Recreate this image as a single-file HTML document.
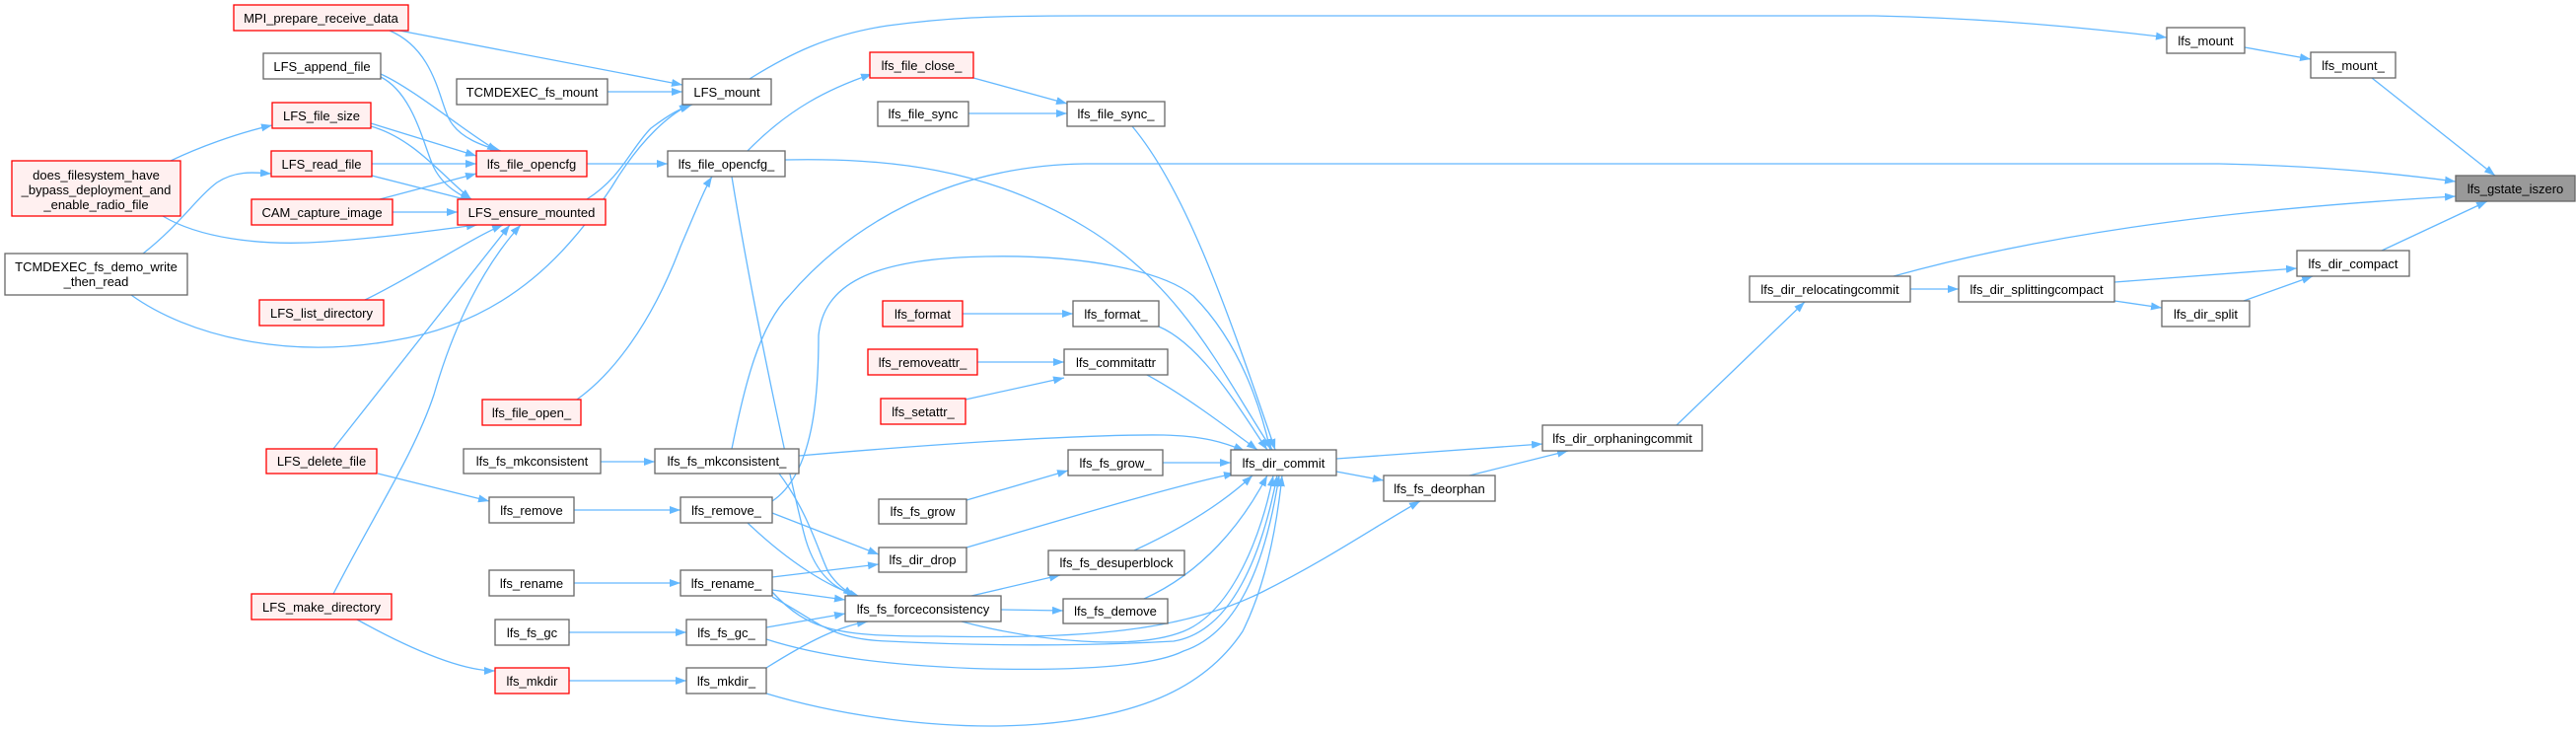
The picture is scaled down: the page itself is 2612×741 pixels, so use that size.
<!DOCTYPE html>
<html><head><meta charset="utf-8"><style>
html,body{margin:0;padding:0;background:#fff;}
svg{display:block;}
text{font-family:"Liberation Sans",Arial,sans-serif;font-size:13px;fill:#000;text-anchor:middle;}
.e{fill:none;stroke:#63b8ff;stroke-width:1.3;marker-end:url(#a);}
.n{fill:#fff;stroke:#666;stroke-width:1.3;}
.r{fill:#fff0f0;stroke:#ff0000;stroke-width:1.3;}
.g{fill:#999;stroke:#666;stroke-width:1.3;}
</style></head><body>
<svg width="2612" height="741" viewBox="0 0 2612 741" xmlns="http://www.w3.org/2000/svg">
<defs><marker id="a" markerUnits="userSpaceOnUse" markerWidth="11" markerHeight="8" refX="11" refY="4" orient="auto"><path d="M0,0 L11,4 L0,8 z" fill="#63b8ff"/></marker></defs>
<g>
<path class="e" d="M405,31 L692,86"/>
<path class="e" d="M395,31 C440,50 445,100 455,120 C465,140 490,148 508,153"/>
<path class="e" d="M386,75 C420,90 480,140 505,153"/>
<path class="e" d="M386,78 C420,95 430,150 440,170 C450,190 470,200 478,202"/>
<path class="e" d="M616,93 L692,93"/>
<path class="e" d="M376,125 L483,158"/>
<path class="e" d="M376,128 C420,140 450,180 478,202"/>
<path class="e" d="M377,166 L483,166"/>
<path class="e" d="M377,178 L483,205"/>
<path class="e" d="M173,163 C200,150 240,135 276,127"/>
<path class="e" d="M165,219 C200,240 260,250 330,245 C400,240 450,232 484,228"/>
<path class="e" d="M385,202 L483,176"/>
<path class="e" d="M398,215 L464,215"/>
<path class="e" d="M145,257 C180,230 200,200 220,185 C240,172 260,175 275,176"/>
<path class="e" d="M133,299 C190,340 290,365 400,345 C520,325 580,250 620,190 C650,140 680,115 700,106"/>
<path class="e" d="M370,304 C420,280 480,240 510,228"/>
<path class="e" d="M338,455 L517,228"/>
<path class="e" d="M383,480 L496,508"/>
<path class="e" d="M338,602 C380,520 420,460 440,400 C460,330 490,270 528,228"/>
<path class="e" d="M362,628 C420,660 470,680 502,680"/>
<path class="e" d="M595,202 C630,180 640,150 660,130 C680,115 690,110 702,106"/>
<path class="e" d="M595,166 L677,166"/>
<path class="e" d="M760,80 C800,55 840,35 900,26 C960,18 1000,16 1100,16 L1900,16 C2000,18 2100,26 2197,38"/>
<path class="e" d="M758,153 C800,110 840,90 884,75"/>
<path class="e" d="M796,162 C900,160 1000,170 1100,230 C1200,290 1240,380 1290,456"/>
<path class="e" d="M742,179 C765,320 800,480 815,540 C825,580 845,598 870,604"/>
<path class="e" d="M585,405 C620,380 660,330 690,250 C705,215 715,190 722,179"/>
<path class="e" d="M987,79 L1082,105"/>
<path class="e" d="M982,115 L1082,115"/>
<path class="e" d="M1148,128 C1200,190 1240,300 1293,456"/>
<path class="e" d="M609,468 L664,468"/>
<path class="e" d="M742,455 C755,390 770,330 800,300 C860,230 960,168 1100,166 L2250,166 C2350,168 2420,175 2490,184"/>
<path class="e" d="M810,462 C950,450 1100,440 1180,441 C1220,442 1240,448 1262,457"/>
<path class="e" d="M790,480 C820,520 830,560 840,580 C850,595 860,600 866,604"/>
<path class="e" d="M582,517 L690,517"/>
<path class="e" d="M783,508 C825,480 830,400 830,340 C835,290 880,262 1000,260 C1100,258 1180,275 1210,300 C1260,350 1280,420 1288,456"/>
<path class="e" d="M783,520 L891,562"/>
<path class="e" d="M758,530 C800,570 840,595 872,605"/>
<path class="e" d="M582,591 L690,591"/>
<path class="e" d="M783,585 L891,572"/>
<path class="e" d="M783,598 L857,608"/>
<path class="e" d="M783,605 C830,630 840,648 900,650 C1000,655 1100,655 1190,650 C1250,640 1280,560 1295,482"/>
<path class="e" d="M783,600 C820,640 850,645 950,645 C1100,648 1200,640 1280,600 C1350,565 1400,530 1440,508"/>
<path class="e" d="M577,641 L696,641"/>
<path class="e" d="M777,636 L857,622"/>
<path class="e" d="M777,648 C830,665 900,675 1000,678 C1100,680 1170,675 1200,660 C1260,640 1285,560 1297,482"/>
<path class="e" d="M577,690 L696,690"/>
<path class="e" d="M777,677 C820,650 850,635 880,630"/>
<path class="e" d="M777,703 C850,725 950,740 1040,735 C1150,728 1220,700 1260,640 C1285,590 1295,530 1300,482"/>
<path class="e" d="M976,318 L1088,318"/>
<path class="e" d="M1175,331 C1220,350 1260,420 1285,456"/>
<path class="e" d="M991,367 L1079,367"/>
<path class="e" d="M979,405 L1079,383"/>
<path class="e" d="M1163,380 C1200,400 1240,430 1275,456"/>
<path class="e" d="M980,507 L1083,477"/>
<path class="e" d="M1179,469 L1248,469"/>
<path class="e" d="M980,555 C1100,520 1200,490 1252,480"/>
<path class="e" d="M985,604 L1075,583"/>
<path class="e" d="M1015,618 L1078,619"/>
<path class="e" d="M975,630 C1050,650 1150,660 1200,640 C1250,620 1280,540 1291,482"/>
<path class="e" d="M1150,558 C1200,535 1240,510 1270,482"/>
<path class="e" d="M1160,607 C1220,580 1260,530 1285,482"/>
<path class="e" d="M1355,465 L1564,450"/>
<path class="e" d="M1355,478 L1403,487"/>
<path class="e" d="M1490,482 L1590,457"/>
<path class="e" d="M1700,431 L1830,306"/>
<path class="e" d="M1937,293 L1986,293"/>
<path class="e" d="M1920,280 C2100,230 2300,210 2490,199"/>
<path class="e" d="M2144,286 L2329,272"/>
<path class="e" d="M2144,305 L2192,312"/>
<path class="e" d="M2275,305 L2345,280"/>
<path class="e" d="M2415,254 L2522,204"/>
<path class="e" d="M2276,48 L2343,60"/>
<path class="e" d="M2405,79 L2530,178"/>
</g>
<g>
<rect class="r" x="237" y="5" width="177" height="26"/><text x="325.5" y="23">MPI_prepare_receive_data</text>
<rect class="n" x="267" y="54" width="119" height="26"/><text x="326.5" y="72">LFS_append_file</text>
<rect class="n" x="463" y="80" width="153" height="26"/><text x="539.5" y="98">TCMDEXEC_fs_mount</text>
<rect class="n" x="692" y="80" width="90" height="26"/><text x="737" y="98">LFS_mount</text>
<rect class="r" x="276" y="104" width="100" height="26"/><text x="326" y="122">LFS_file_size</text>
<rect class="r" x="275" y="153" width="102" height="26"/><text x="326" y="171">LFS_read_file</text>
<rect class="r" x="483" y="153" width="112" height="26"/><text x="539" y="171">lfs_file_opencfg</text>
<rect class="n" x="677" y="153" width="119" height="26"/><text x="736.5" y="171">lfs_file_opencfg_</text>
<rect class="r" x="12" y="163" width="171" height="56"/><text x="97.5" y="182">does_filesystem_have</text><text x="97.5" y="197">_bypass_deployment_and</text><text x="97.5" y="212">_enable_radio_file</text>
<rect class="r" x="255" y="202" width="143" height="26"/><text x="326.5" y="220">CAM_capture_image</text>
<rect class="r" x="464" y="202" width="150" height="26"/><text x="539" y="220">LFS_ensure_mounted</text>
<rect class="n" x="5" y="257" width="185" height="42"/><text x="97.5" y="275">TCMDEXEC_fs_demo_write</text><text x="97.5" y="290">_then_read</text>
<rect class="r" x="263" y="304" width="126" height="26"/><text x="326" y="322">LFS_list_directory</text>
<rect class="r" x="489" y="405" width="100" height="26"/><text x="539" y="423">lfs_file_open_</text>
<rect class="r" x="270" y="455" width="112" height="25"/><text x="326" y="472">LFS_delete_file</text>
<rect class="n" x="470" y="455" width="139" height="25"/><text x="539.5" y="472">lfs_fs_mkconsistent</text>
<rect class="n" x="664" y="455" width="146" height="25"/><text x="737" y="472">lfs_fs_mkconsistent_</text>
<rect class="n" x="496" y="504" width="86" height="26"/><text x="539" y="522">lfs_remove</text>
<rect class="n" x="690" y="504" width="93" height="26"/><text x="736.5" y="522">lfs_remove_</text>
<rect class="n" x="496" y="578" width="86" height="26"/><text x="539" y="596">lfs_rename</text>
<rect class="n" x="690" y="578" width="93" height="26"/><text x="736.5" y="596">lfs_rename_</text>
<rect class="r" x="255" y="602" width="142" height="26"/><text x="326" y="620">LFS_make_directory</text>
<rect class="n" x="502" y="628" width="75" height="26"/><text x="539.5" y="646">lfs_fs_gc</text>
<rect class="n" x="696" y="628" width="81" height="26"/><text x="736.5" y="646">lfs_fs_gc_</text>
<rect class="r" x="502" y="677" width="75" height="26"/><text x="539.5" y="695">lfs_mkdir</text>
<rect class="n" x="696" y="677" width="81" height="26"/><text x="736.5" y="695">lfs_mkdir_</text>
<rect class="r" x="882" y="53" width="105" height="26"/><text x="934.5" y="71">lfs_file_close_</text>
<rect class="n" x="890" y="103" width="92" height="25"/><text x="936" y="120">lfs_file_sync</text>
<rect class="n" x="1082" y="103" width="99" height="25"/><text x="1131.5" y="120">lfs_file_sync_</text>
<rect class="r" x="895" y="305" width="81" height="26"/><text x="935.5" y="323">lfs_format</text>
<rect class="n" x="1088" y="305" width="87" height="26"/><text x="1131.5" y="323">lfs_format_</text>
<rect class="r" x="880" y="354" width="111" height="26"/><text x="935.5" y="372">lfs_removeattr_</text>
<rect class="n" x="1079" y="354" width="105" height="26"/><text x="1131.5" y="372">lfs_commitattr</text>
<rect class="r" x="893" y="404" width="86" height="26"/><text x="936" y="422">lfs_setattr_</text>
<rect class="n" x="1083" y="456" width="96" height="26"/><text x="1131" y="474">lfs_fs_grow_</text>
<rect class="n" x="1248" y="456" width="107" height="26"/><text x="1301.5" y="474">lfs_dir_commit</text>
<rect class="n" x="1564" y="431" width="162" height="26"/><text x="1645" y="449">lfs_dir_orphaningcommit</text>
<rect class="n" x="1403" y="482" width="113" height="26"/><text x="1459.5" y="500">lfs_fs_deorphan</text>
<rect class="n" x="891" y="506" width="89" height="25"/><text x="935.5" y="523">lfs_fs_grow</text>
<rect class="n" x="891" y="555" width="89" height="25"/><text x="935.5" y="572">lfs_dir_drop</text>
<rect class="n" x="1063" y="558" width="138" height="25"/><text x="1132" y="575">lfs_fs_desuperblock</text>
<rect class="n" x="857" y="604" width="158" height="26"/><text x="936" y="622">lfs_fs_forceconsistency</text>
<rect class="n" x="1078" y="607" width="106" height="25"/><text x="1131" y="624">lfs_fs_demove</text>
<rect class="n" x="2197" y="28" width="79" height="26"/><text x="2236.5" y="46">lfs_mount</text>
<rect class="n" x="2343" y="53" width="86" height="26"/><text x="2386" y="71">lfs_mount_</text>
<rect class="g" x="2490" y="178" width="121" height="26"/><text x="2550.5" y="196">lfs_gstate_iszero</text>
<rect class="n" x="2329" y="254" width="114" height="26"/><text x="2386" y="272">lfs_dir_compact</text>
<rect class="n" x="1774" y="280" width="163" height="26"/><text x="1855.5" y="298">lfs_dir_relocatingcommit</text>
<rect class="n" x="1986" y="280" width="158" height="26"/><text x="2065" y="298">lfs_dir_splittingcompact</text>
<rect class="n" x="2192" y="305" width="89" height="26"/><text x="2236.5" y="323">lfs_dir_split</text>
</g>
</svg>
</body></html>
